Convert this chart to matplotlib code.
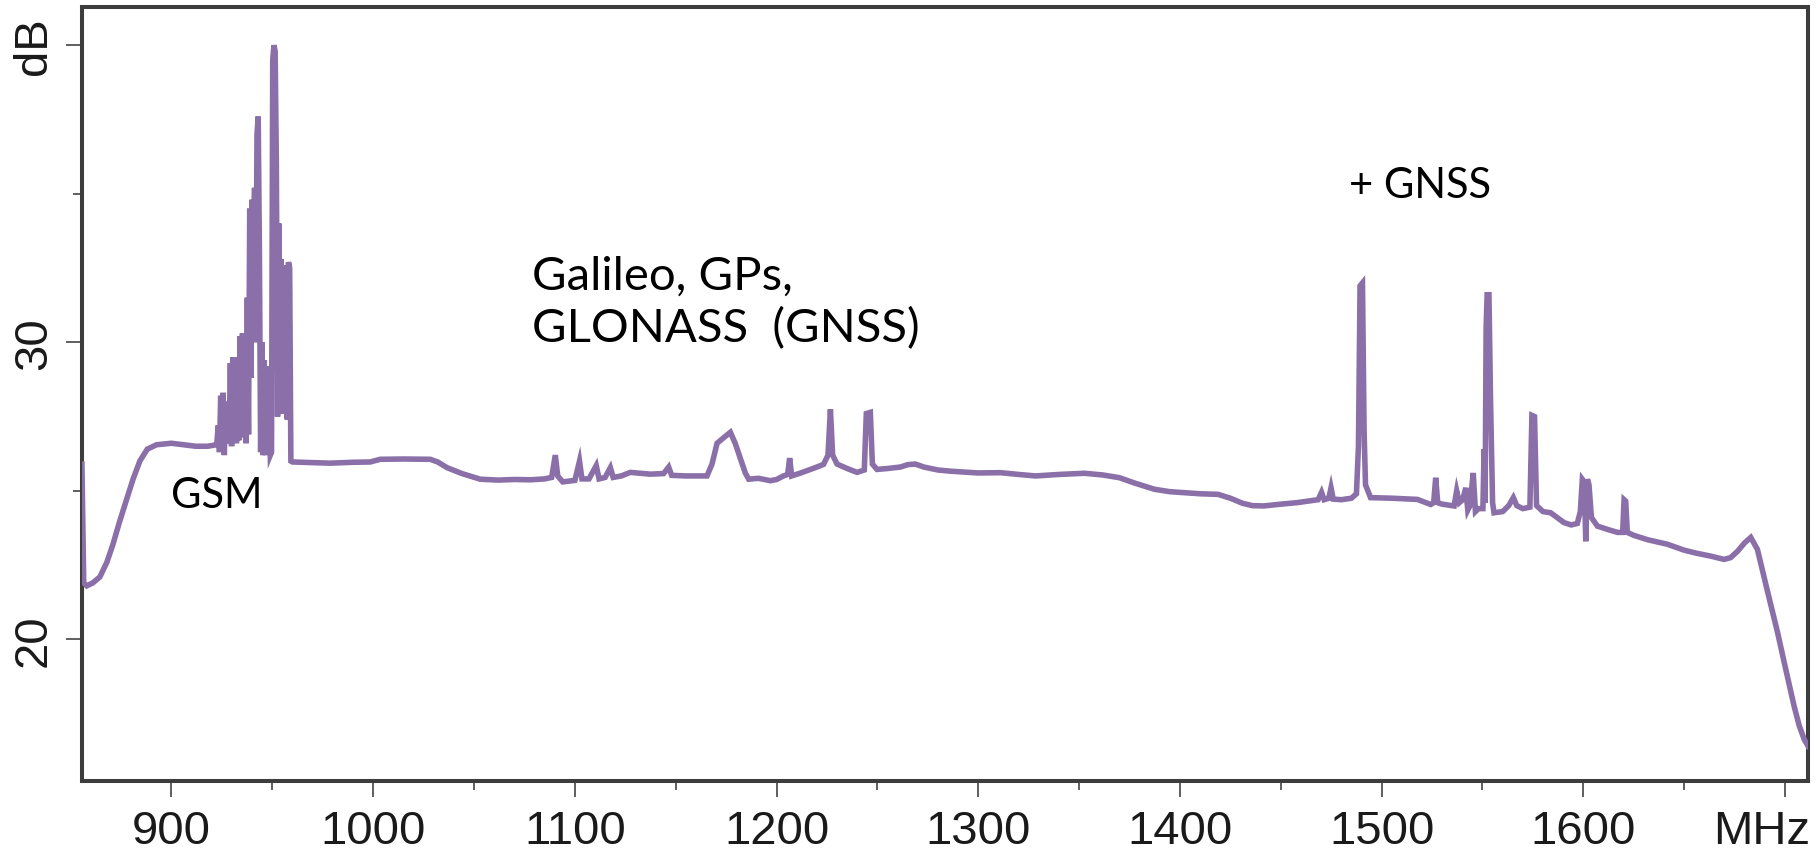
import matplotlib
matplotlib.use("Agg")
import matplotlib.pyplot as plt
from matplotlib import font_manager
from matplotlib import transforms as mtransforms

# ---------------- data ----------------
freq_mhz = [
    855.6, 856.5, 858, 861, 864.5, 868, 871, 874, 877.7, 881, 884.3, 888, 892.6, 900, 906, 912, 918, 922.3,
    # GSM cluster
    922.5, 923.2, 923.8, 924.4, 925.0, 925.6, 926.2, 926.8, 927.4, 928.0, 928.6, 929.2, 929.8, 930.4,
    931.0, 931.6, 932.2, 932.8, 933.4, 934.0, 934.6, 935.2, 935.8, 936.4, 937.0, 937.6, 938.2, 938.8,
    939.4, 940.0, 940.6, 941.2, 941.8, 942.4, 943.0, 943.6, 944.2, 944.8, 945.4, 946.0, 946.6, 947.2,
    947.8, 948.4, 949.0, 949.6, 950.2, 950.8, 951.4, 952.0, 952.6, 953.2, 953.8, 954.4, 955.0, 955.6,
    956.2, 956.8, 957.4, 958.0, 958.6, 959.2,
    # plateau and GNSS band
    960, 970, 978.7, 990, 998.5, 1003.5, 1015, 1028.3, 1032, 1036.6, 1044, 1053.1, 1062, 1070, 1077.9,
    1085, 1088.5, 1090.3, 1091.5, 1094, 1100, 1102.3, 1103.5, 1107, 1110.6, 1112, 1115, 1117.6, 1119,
    1123, 1127.5, 1137.4, 1144, 1146.5, 1148, 1155, 1165.5, 1168, 1170.5, 1174, 1177.1, 1179.5, 1182,
    1184.5, 1186.2, 1191, 1196.9, 1200, 1203.4, 1205.5, 1206.5, 1207.5, 1212, 1216.8, 1220, 1223.3,
    1225.5, 1226.7, 1227.8, 1230, 1235, 1239.9, 1243.5, 1244.5, 1246.5, 1247.5, 1249.8, 1255, 1261.4,
    1265, 1268.8, 1273, 1280, 1286.2, 1295, 1300, 1311, 1320, 1328.4, 1340, 1352.7, 1362, 1370, 1378,
    1387.4, 1395, 1401.5, 1410, 1418.9, 1425, 1431, 1436, 1441.5, 1450, 1458, 1464.1, 1468.5, 1470.2,
    1471.5, 1473.8, 1474.9, 1476, 1480, 1485,
    # upper GNSS peaks
    1487.5, 1488.5, 1489.3, 1490.5, 1491.3, 1492, 1494.5, 1505, 1517.7, 1522, 1524.3, 1525.8, 1526.8,
    1527.8, 1530, 1535.9, 1537.2, 1538.5, 1540.2, 1541.7, 1542.7, 1543.8, 1545.4, 1546.5, 1548, 1550.2,
    1550.8, 1551.3, 1551.8, 1552.3, 1553.2, 1554, 1555, 1555.7, 1560, 1563, 1565.3, 1567, 1570, 1573.5,
    1574.5, 1575.8, 1576.8, 1580, 1583.8, 1587, 1590.4, 1594, 1597, 1598.5, 1599.5, 1600.5, 1601.2,
    1602, 1602.8, 1604, 1607, 1612, 1616.9, 1619.5, 1620.2, 1621, 1621.8, 1625, 1632, 1641.7, 1650,
    1656, 1663.2, 1669.8, 1673, 1676.4, 1680, 1683, 1686.3, 1691, 1696.3, 1700, 1704.5, 1707, 1709.5,
    1711.5,
]

level_db = [
    25.9, 21.9, 21.8, 21.9, 22.1, 22.6, 23.2, 23.9, 24.7, 25.4, 26.0, 26.4, 26.55, 26.6, 26.55, 26.5, 26.5, 26.55,
    # GSM cluster
    26.6, 27.2, 26.3, 28.2, 26.4, 28.3, 26.2, 28.0, 26.6, 27.6, 26.8, 29.3, 26.5, 29.5,
    27.0, 29.4, 26.6, 29.5, 26.7, 30.2, 26.8, 30.3, 28.0, 30.2, 26.6, 31.5, 26.9, 34.5,
    28.8, 34.8, 32.8, 35.2, 30.0, 37.0, 37.6, 33.0, 26.3, 30.0, 26.2, 29.4, 26.2, 29.2,
    26.3, 28.6, 26.2, 26.3, 39.5, 40.0, 39.8, 36.0, 27.5, 34.0, 28.0, 32.8, 27.6, 32.2,
    28.8, 32.6, 27.4, 32.7, 32.5, 26.0,
    # plateau and GNSS band
    25.97, 25.95, 25.93, 25.96, 25.97, 26.06, 26.07, 26.06, 25.97, 25.78, 25.58, 25.39, 25.36, 25.38, 25.37,
    25.4, 25.45, 26.2, 25.5, 25.3, 25.35, 26.0, 25.4, 25.4, 25.85, 25.4, 25.45, 25.78, 25.45,
    25.5, 25.62, 25.56, 25.58, 25.8, 25.52, 25.5, 25.5, 25.9, 26.6, 26.8, 26.97, 26.6, 26.1,
    25.6, 25.39, 25.42, 25.34, 25.38, 25.5, 25.55, 26.1, 25.5, 25.6, 25.72, 25.8, 25.89,
    26.2, 27.74, 26.2, 25.9, 25.75, 25.62, 25.7, 27.6, 27.64, 25.9, 25.72, 25.75, 25.8,
    25.88, 25.9, 25.8, 25.7, 25.66, 25.62, 25.6, 25.61, 25.55, 25.5, 25.55, 25.59, 25.53, 25.44, 25.25,
    25.05, 24.97, 24.94, 24.9, 24.88, 24.75, 24.58, 24.5, 24.49, 24.55, 24.6, 24.66, 24.7, 24.95,
    24.7, 24.75, 25.1, 24.72, 24.7, 24.75,
    # upper GNSS peaks
    24.9, 26.5, 31.9, 32.0, 27.0, 25.2, 24.77, 24.75, 24.71, 24.6, 24.54, 24.6, 25.44,
    24.6, 24.55, 24.49, 25.0, 24.6, 24.7, 25.1, 24.35, 24.5, 25.6, 24.3, 24.4, 24.4,
    26.4, 24.6, 30.5, 31.6, 31.6, 28.0, 24.6, 24.26, 24.3, 24.5, 24.77, 24.5, 24.4, 24.45,
    27.54, 27.5, 24.5, 24.3, 24.26, 24.1, 23.93, 23.85, 23.9, 24.3, 25.39, 25.3, 23.3,
    25.39, 25.2, 24.1, 23.81, 23.7, 23.6, 23.6, 24.7, 24.65, 23.6, 23.5, 23.35, 23.2, 23.0,
    22.9, 22.8, 22.69, 22.75, 22.96, 23.25, 23.43, 23.03, 21.7, 20.23, 19.1, 17.75, 17.1, 16.63,
    16.4,
]

x_major_ticks = [900, 1000, 1100, 1200, 1300, 1400, 1500, 1600, 1700]
x_major_labels = ["900", "1000", "1100", "1200", "1300", "1400", "1500", "1600", ""]
x_unit_label = "MHz"
x_minor_ticks = [950, 1050, 1150, 1250, 1350, 1450, 1550, 1650]
y_major_ticks = [20, 30, 40]
y_major_labels = ["20", "30", "dB"]
y_minor_ticks = [25, 35]

annotations = [
    ("GSM", 899.7, 24.44, 30),
    ("Galileo, GPs,", 1078.7, 31.79, 34),
    ("GLONASS  (GNSS)", 1078.7, 30.04, 34),
    ("+ GNSS", 1483.8, 34.9, 30),
]

# ---------------- fonts ----------------
names = {f.name for f in font_manager.fontManager.ttflist}
tick_family = ["Liberation Sans Narrow", "Liberation Sans", "DejaVu Sans"]
tick_family = [f for f in tick_family if f in names] or ["DejaVu Sans"]
ann_family = [f for f in ["Lato", "Open Sans", "DejaVu Sans"] if f in names] or ["DejaVu Sans"]

# ---------------- figure ----------------
fig = plt.figure(figsize=(18.16, 8.54), dpi=100)
ax = fig.add_axes([0.045, 0.0843, 0.9505, 0.9061])

line_color = "#8b6fa8"
ax.plot(freq_mhz, level_db, color=line_color, lw=4.0, solid_joinstyle="miter", zorder=3)

ax.set_xlim(855.5, 1711.3)
ax.set_ylim(15.23, 41.28)

ax.set_xticks(x_major_ticks)
ax.set_xticklabels(x_major_labels)
ax.set_xticks(x_minor_ticks, minor=True)
ax.set_yticks(y_major_ticks)
ax.set_yticklabels(y_major_labels)
ax.set_yticks(y_minor_ticks, minor=True)

spine_color = "#3d3d3d"
for s in ax.spines.values():
    s.set_color(spine_color)
    s.set_linewidth(2.9)

tick_len, x_pad, label_size = 11.5, 8.5, 34
ax.tick_params(axis="both", which="major", length=tick_len, width=1.2, color="#444444",
               labelsize=label_size, labelcolor="#1a1a1a")
ax.tick_params(axis="both", which="minor", length=6.5, width=1.2, color="#444444")
ax.tick_params(axis="x", which="major", pad=x_pad)
ax.tick_params(axis="y", which="major", pad=7, labelrotation=90)

for lab in ax.get_xticklabels() + ax.get_yticklabels():
    lab.set_family(tick_family)
for lab in ax.get_yticklabels():
    lab.set_verticalalignment("center")

# unit label at the last x tick, kept inside the figure like the reference
unit_tr = mtransforms.blended_transform_factory(ax.transData, ax.transAxes) + \
    mtransforms.ScaledTranslation(0.25, -(tick_len + x_pad) / 72.0, fig.dpi_scale_trans)
ax.text(x_major_ticks[-1], 0, x_unit_label, transform=unit_tr, ha="right", va="top",
        fontsize=label_size, family=tick_family, color="#1a1a1a", clip_on=False)

for text, x, y, size in annotations:
    ax.text(x, y, text, fontsize=size, family=ann_family, color="black",
            ha="left", va="baseline", zorder=4)

fig.savefig("out.png", dpi=100, facecolor="white")
